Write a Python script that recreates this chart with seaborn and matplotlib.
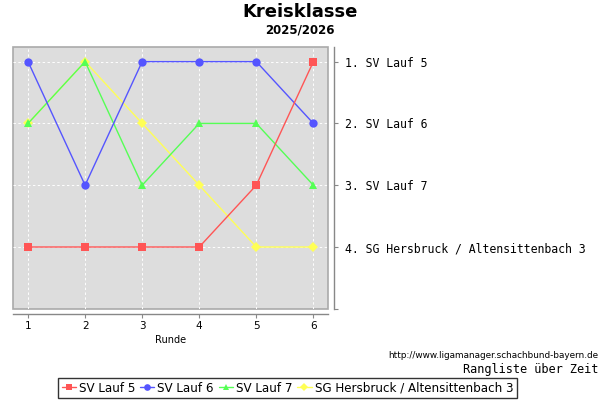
import matplotlib
matplotlib.use("Agg")
import matplotlib.pyplot as plt
import pandas as pd
import seaborn as sns

ROUNDS = [1, 2, 3, 4, 5, 6]
TEAMS = ["SV Lauf 5", "SV Lauf 6", "SV Lauf 7", "SG Hersbruck / Altensittenbach 3"]
RANK_LAUF5 = [4, 4, 4, 4, 3, 1]
RANK_LAUF6 = [1, 3, 1, 1, 1, 2]
RANK_LAUF7 = [2, 1, 3, 2, 2, 3]
RANK_HERSBRUCK = [2, 1, 2, 3, 4, 4]
FINAL_LABELS = ["1. SV Lauf 5", "2. SV Lauf 6", "3. SV Lauf 7",
                "4. SG Hersbruck / Altensittenbach 3"]

COLORS = ["#ff5555", "#5555ff", "#55ff55", "#ffff55"]
MARKERS = ["s", "o", "^", "D"]
MSIZES = [6, 6, 6, 5]

sns.set_style("white")
plt.rcParams["font.family"] = ["DejaVu Sans"]
plt.rcParams["text.color"] = "black"
plt.rcParams["axes.labelcolor"] = "black"
plt.rcParams["xtick.color"] = "black"
plt.rcParams["ytick.color"] = "black"

df = pd.DataFrame({
    "Runde": ROUNDS * 4,
    "Rang": RANK_LAUF5 + RANK_LAUF6 + RANK_LAUF7 + RANK_HERSBRUCK,
    "Team": [t for t in TEAMS for _ in ROUNDS],
})

fig = plt.figure(figsize=(6, 4), dpi=100)
ax = fig.add_axes([0.022, 0.228, 0.525, 0.655])
ax.set_facecolor("#dddddd")
ax.patch.set_edgecolor("#aaaaaa")
ax.patch.set_linewidth(1.2)

# draw in reverse so the first series ends on top
for i in reversed(range(len(TEAMS))):
    sub = df[df["Team"] == TEAMS[i]]
    sns.lineplot(data=sub, x="Runde", y="Rang", ax=ax, color=COLORS[i],
                 marker=MARKERS[i], markersize=MSIZES[i], markeredgewidth=0,
                 linewidth=1, label=TEAMS[i], zorder=3 + (len(TEAMS) - i))

ax.set_xlim(0.74, 6.26)
ax.set_ylim(5.0, 0.76)
ax.yaxis.tick_right()
for side in ["top", "left"]:
    ax.spines[side].set_visible(False)
for side in ["bottom", "right"]:
    ax.spines[side].set_visible(True)
    ax.spines[side].set_color("#888888")
    ax.spines[side].set_linewidth(1)
    ax.spines[side].set_position(("outward", 4))
ax.tick_params(axis="x", length=3, color="#888888", pad=2, bottom=True,
               labelsize=7.5, labelcolor="black")
ax.tick_params(axis="y", length=3, color="#888888", pad=5, right=True,
               left=False, labelsize=8.3, labelcolor="black",
               labelfontfamily="DejaVu Sans Mono")
ax.set_xticks(ROUNDS, [str(r) for r in ROUNDS])
ax.set_yticks([1, 2, 3, 4, 5], FINAL_LABELS + [""])
ax.set_xlabel("Runde", fontsize=7, labelpad=3)
ax.set_ylabel("")
ax.grid(True, color="white", linestyle=(0, (2.5, 2.5)), linewidth=0.7)
ax.set_axisbelow(True)

ax.get_legend().remove()
h, l = ax.get_legend_handles_labels()
order = [l.index(t) for t in TEAMS]
leg = fig.legend([h[k] for k in order], TEAMS, loc="center", ncol=4,
                 bbox_to_anchor=(0.479, 0.03), fontsize=8.6, frameon=True,
                 fancybox=False, edgecolor="black", handlelength=1.2,
                 handletextpad=0.25, columnspacing=0.4, borderpad=0.3,
                 borderaxespad=0.2, markerscale=0.8)
leg.get_frame().set_linewidth(1)

fig.text(0.5, 0.97, "Kreisklasse", ha="center", va="center",
         fontsize=13, fontweight="bold")
fig.text(0.5, 0.925, "2025/2026", ha="center", va="center",
         fontsize=8.5, fontweight="bold")
fig.text(0.998, 0.11, "http://www.ligamanager.schachbund-bayern.de",
         ha="right", va="center", fontsize=6.4)
fig.text(0.998, 0.077, "Rangliste über Zeit", ha="right", va="center",
         fontsize=8.6, family="DejaVu Sans Mono")

fig.savefig("out.png", dpi=100)
